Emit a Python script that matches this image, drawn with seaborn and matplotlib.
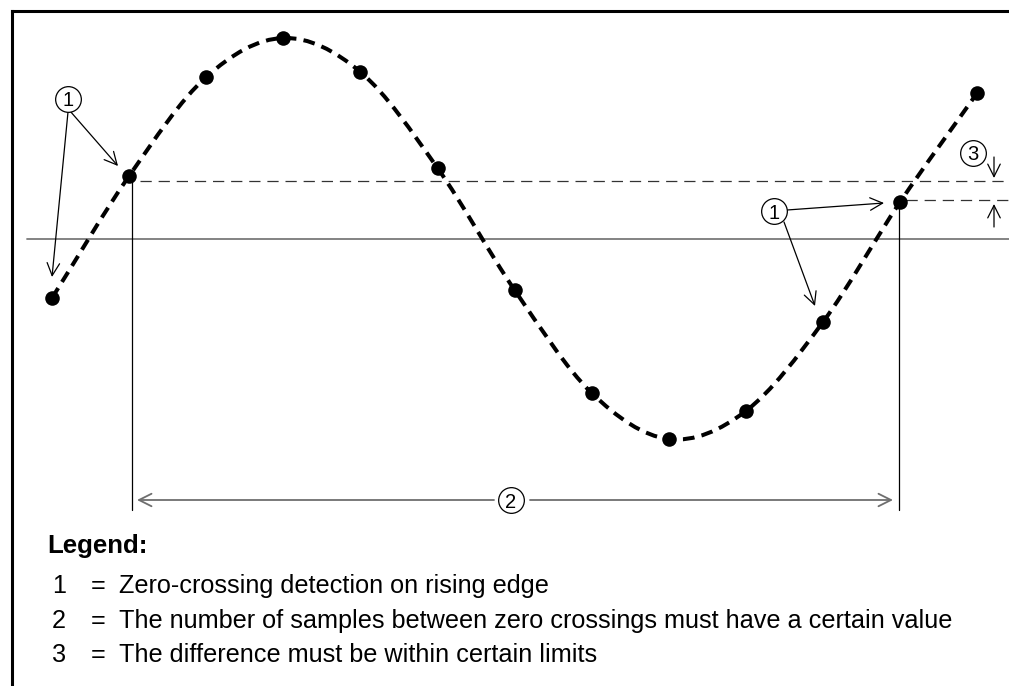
import numpy as np
import matplotlib
matplotlib.use("Agg")
import matplotlib.pyplot as plt
import seaborn as sns
from matplotlib.path import Path
from matplotlib.patches import PathPatch

# ---------------- data ----------------
sample_index = list(range(13))
sample_value = [-0.295, 0.315, 0.81, 1.005, 0.835, 0.355, -0.255,
                -0.77, -1.0, -0.86, -0.415, 0.185, 0.73]
crossing_samples = [1, 11]
upper_level = 0.29
lower_level = 0.195
legend_title = "Legend:"
legend_numbers = ["1", "2", "3"]
legend_texts = ["Zero-crossing detection on rising edge",
                "The number of samples between zero crossings must have a certain value",
                "The difference must be within certain limits"]

# ---------------- figure ----------------
W, H = 1009, 686
sns.set_theme(style="white")
plt.rcParams['font.family'] = ['Liberation Sans', 'DejaVu Sans']

fig = plt.figure(figsize=(W / 100, H / 100), dpi=100)
L_PX, T_PX = 12, 11
ax = fig.add_axes([L_PX / W, 0, 1 - L_PX / W, 1 - T_PX / H])

X0, DX = 52.0, 77.1   # pixel of sample 0, pixels per sample
Y0, DY = 239.0, 200.0  # pixel of zero level, pixels per unit


def px(x):
    return (x - X0) / DX


def py(y):
    return (Y0 - y) / DY


ax.set_xlim(px(L_PX), px(W))
ax.set_ylim(py(H), py(T_PX))
ax.set_xticks([])
ax.set_yticks([])
for s in ["right", "bottom"]:
    ax.spines[s].set_visible(False)
for s in ["left", "top"]:
    ax.spines[s].set_color("black")
    ax.spines[s].set_linewidth(2.2)

# smooth dashed curve through samples (Catmull-Rom -> Bezier)
pts = np.column_stack([sample_index, sample_value]).astype(float)
ext = np.vstack([2 * pts[0] - pts[1], pts, 2 * pts[-1] - pts[-2]])
verts = [tuple(pts[0])]
codes = [Path.MOVETO]
for i in range(1, len(ext) - 2):
    p0, p1, p2, p3 = ext[i - 1], ext[i], ext[i + 1], ext[i + 2]
    c1 = p1 + (p2 - p0) / 6.0
    c2 = p2 - (p3 - p1) / 6.0
    verts += [tuple(c1), tuple(c2), tuple(p2)]
    codes += [Path.CURVE4] * 3
curve = PathPatch(Path(verts, codes), fill=False, edgecolor="black", lw=2.9,
                  linestyle=(0, (2.9, 1.8)), capstyle="butt", zorder=3)
ax.add_patch(curve)

# sample dots
sns.scatterplot(x=sample_index, y=sample_value, s=110, color="black",
                edgecolor="black", linewidth=0, zorder=5, ax=ax, legend=False)

# zero line
ax.plot([px(27), px(W)], [0, 0], color="#7a7a7a", lw=1.3, zorder=1)

# reference levels (dashed)
ax.plot([px(140), px(W)], [upper_level, upper_level], color="#333333",
        lw=0.9, linestyle=(0, (9, 5.5)), zorder=1)
ax.plot([px(906), px(W)], [lower_level, lower_level], color="#333333",
        lw=0.9, linestyle=(0, (9, 5.5)), zorder=1)

# vertical markers at zero-crossing samples
for k, dx in zip(crossing_samples, [3, -1]):
    xv = k + dx / DX
    ax.plot([xv, xv], [sample_value[k] - 6 / DY, py(510)], color="black",
            lw=0.9, zorder=2)


def circ_label(xp, yp, txt):
    ax.plot([px(xp)], [py(yp)], marker="o", markersize=18.5, mfc="white",
            mec="black", mew=0.9, zorder=6)
    ax.text(px(xp), py(yp), txt, ha="center", va="center_baseline",
            fontsize=14.5, zorder=7, color="black")


def arrow(x1, y1, x2, y2, color="black", lw=0.9, style="->"):
    ax.annotate("", xy=(px(x2), py(y2)), xytext=(px(x1), py(y1)),
                arrowprops=dict(arrowstyle=style + ",head_length=0.6,head_width=0.3",
                                mutation_scale=15, color=color, lw=lw,
                                shrinkA=0, shrinkB=0), zorder=4)


# annotation 1 (left)
arrow(68, 112, 52, 277)
arrow(70, 111, 118, 166)
circ_label(68, 99, "1")

# annotation 1 (right)
arrow(787, 210, 884, 203)
arrow(784, 222, 815, 306)
circ_label(774, 211, "1")

# annotation 3
circ_label(973, 153, "3")
arrow(994, 157, 994, 178)
arrow(994, 227, 994, 204)

# annotation 2
arrow(494, 500, 137, 500, color="#6e6e6e", lw=1.3)
arrow(530, 500, 893, 500, color="#6e6e6e", lw=1.3)
circ_label(511, 500, "2")

# legend text
ax.text(px(47), py(553), legend_title, fontsize=18.6, fontweight="bold",
        ha="left", va="baseline", color="black")
row_base = [593, 628, 662]
for num, txt, yb in zip(legend_numbers, legend_texts, row_base):
    ax.text(px(52), py(yb), num, fontsize=18.2, ha="left", va="baseline", color="black")
    ax.text(px(91), py(yb), "=", fontsize=18.2, ha="left", va="baseline", color="black")
    ax.text(px(119), py(yb), txt, fontsize=18.2, ha="left", va="baseline", color="black")

fig.savefig("out.png", dpi=100)
